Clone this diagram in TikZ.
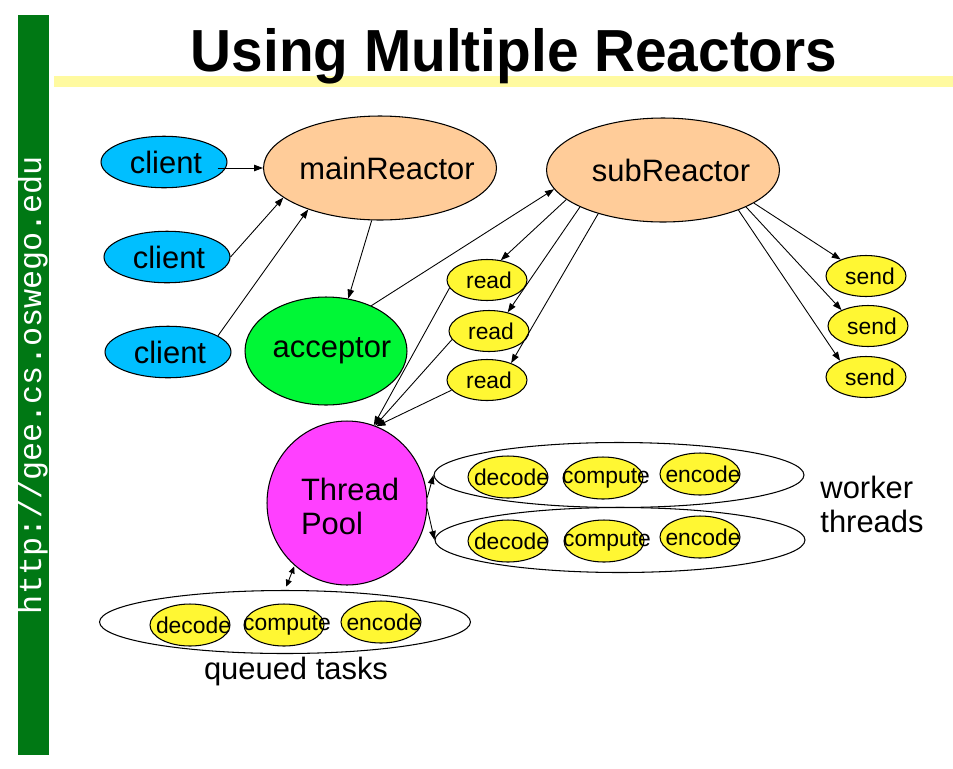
\documentclass[tikz,border=0pt]{standalone}
\usepackage{fontspec}
\usepackage{graphicx}
\setmainfont{Liberation Sans}
\newfontfamily\monof{Liberation Mono}
\usetikzlibrary{shapes.geometric,arrows.meta}
\definecolor{barGreen}{RGB}{0,120,20}
\definecolor{barYellow}{RGB}{255,250,160}
\definecolor{clientBlue}{RGB}{0,191,255}
\definecolor{peach}{RGB}{255,204,153}
\definecolor{accGreen}{RGB}{0,247,54}
\definecolor{nodeYellow}{RGB}{255,247,51}
\definecolor{poolMagenta}{RGB}{255,64,255}
\tikzset{
  oval/.style={ellipse, draw=black, line width=0.6pt, inner sep=0pt},
  bigtxt/.style={font=\fontsize{17.6}{21}\selectfont},
  smalltxt/.style={font=\fontsize{13}{15}\selectfont},
  clientnode/.style={oval, fill=clientBlue, minimum width=2.52cm, minimum height=1.03cm},
  reactor/.style={oval, fill=peach, minimum width=4.66cm, minimum height=2.08cm},
  rdnode/.style={oval, fill=nodeYellow, minimum width=1.6cm, minimum height=0.82cm},
  tasknode/.style={oval, fill=nodeYellow, minimum width=1.6cm, minimum height=0.84cm},
  group/.style={oval, fill=white, minimum width=7.4cm, minimum height=1.3cm},
  lbl/.style={bigtxt, inner sep=0pt},
  slbl/.style={smalltxt, inner sep=0pt},
  arr/.style={-{Triangle[length=0.18cm,width=0.13cm]}, line width=0.5pt},
  dblarr/.style={{Triangle[length=0.14cm,width=0.12cm]}-{Triangle[length=0.14cm,width=0.12cm]}, line width=0.5pt}
}
\begin{document}
\begin{tikzpicture}[x=0.02cm,y=-0.02cm]
\useasboundingbox (0,0) rectangle (953,768);
% side bar and title bar
\fill[barGreen] (18,15) rectangle (49,755);
\node[rotate=90, text=white, font=\monof\fontsize{18.1}{20}\selectfont, inner sep=0pt] (url) at (33,385) {http://gee.cs.oswego.edu};
\fill[barYellow] (54,76) rectangle (953,87);
\node[anchor=base, inner sep=0pt] (title) at (514,71) {\scalebox{0.956}[1]{\fontsize{33.8}{40}\selectfont\bfseries Using Multiple Reactors}};

% clients and reactors
\node[clientnode, label={[lbl, xshift=0.04cm]center:client}] (c1) at (164,162) {};
\node[clientnode, label={[lbl, xshift=0.04cm]center:client}] (c2) at (167,257) {};
\node[clientnode, label={[lbl, xshift=0.04cm]center:client}] (c3) at (168,352) {};
\node[reactor, label={[lbl, xshift=0.14cm]center:mainReactor}] (main) at (380,168) {};
\node[reactor, label={[lbl, xshift=0.16cm]center:subReactor}] (sub) at (663,170) {};
\node[oval, fill=accGreen, minimum width=3.24cm, minimum height=2.16cm, label={[lbl, xshift=0.12cm]center:acceptor}] (acc) at (326,351) {};

% read / send
\node[rdnode, label={[slbl, xshift=0.04cm]center:read}] (r1) at (487,280) {};
\node[rdnode, label={[slbl, xshift=0.04cm]center:read}] (r2) at (489,331) {};
\node[rdnode, label={[slbl, xshift=0.04cm]center:read}] (r3) at (487,380) {};
\node[rdnode, label={[slbl, xshift=0.08cm]center:send}] (s1) at (866,276) {};
\node[rdnode, label={[slbl, xshift=0.08cm]center:send}] (s2) at (868,326) {};
\node[rdnode, label={[slbl, xshift=0.08cm]center:send}] (s3) at (866,377) {};

% thread pool
\node[oval, fill=poolMagenta, minimum width=3.2cm, minimum height=3.28cm, label={[lbl, align=left, font=\fontsize{17.6}{19.3}\selectfont, xshift=0.06cm, yshift=-0.06cm]center:Thread\\Pool}] (tp) at (347,503) {};

% worker threads
\node[group] (w1) at (619,475) {};
\node[group] (w2) at (620,540) {};
\node[tasknode, label={[slbl, xshift=0.07cm]center:decode}] (d1) at (508,477) {};
\node[tasknode, label={[slbl, xshift=0.06cm]center:compute}] (p1) at (603,478) {};
\node[tasknode, label={[slbl, xshift=0.06cm]center:encode}] (e1) at (700,474) {};
\node[tasknode, label={[slbl, xshift=0.07cm]center:decode}] (d2) at (508,541) {};
\node[tasknode, label={[slbl, xshift=0.06cm]center:compute}] (p2) at (604,541) {};
\node[tasknode, label={[slbl, xshift=0.06cm]center:encode}] (e2) at (700,537) {};
\node[bigtxt, align=left, font=\fontsize{17.6}{19.3}\selectfont, inner sep=0pt] (wt) at (872,504) {worker\\threads};

% queued tasks
\node[group, minimum width=7.42cm, minimum height=1.26cm] (q) at (285,622) {};
\node[tasknode, label={[slbl, xshift=0.07cm]center:decode}] (d3) at (190,625) {};
\node[tasknode, label={[slbl, xshift=0.06cm]center:compute}] (p3) at (284,625) {};
\node[tasknode, label={[slbl, xshift=0.06cm]center:encode}] (e3) at (381,622) {};
\node[bigtxt, anchor=base, inner sep=0pt] (qt) at (296,679) {queued tasks};

% connectors
\draw[arr] ([xshift=-0.2cm]c1.east |- main.west) -- (main.west);
\draw[arr] (c2.east) -- (main.197);
\draw[arr] (c3.18) -- (main.210);
\draw[arr] (main.261) -- (acc.67);
\draw[arr] (acc.45) -- (sub.190);
\draw[arr] (sub.197) -- (r1.55);
\draw[arr] (sub.204) -- (r2.45);
\draw[arr] (sub.214) -- (r3.35);
\draw[arr] (sub.-20) -- (s1.147);
\draw[arr] (sub.-24) -- (s2.149);
\draw[arr] (sub.-28) -- (s3.148);
\draw[arr] (r1.192) -- (tp.71);
\draw[arr] (r2.193) -- (tp.70);
\draw[arr] (r3.196) -- (tp.69);
\draw[arr] (tp.4) -- (w1.west);
\draw[arr] (tp.-4) -- (w2.west);
\draw[dblarr, shorten <=0.5pt, shorten >=2pt] (tp.230) -- (q.north);
\end{tikzpicture}
\end{document}
